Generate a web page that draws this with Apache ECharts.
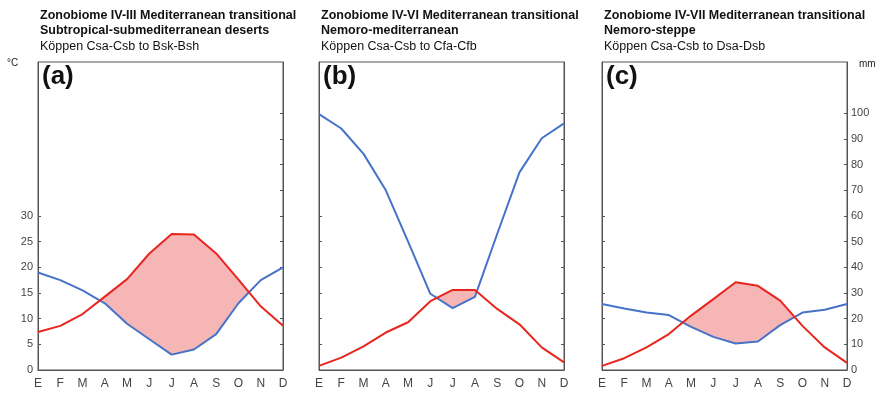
<!DOCTYPE html>
<html><head><meta charset="utf-8">
<script src="https://cdn.jsdelivr.net/npm/echarts@6/dist/echarts.min.js"></script>
<style>html,body{margin:0;padding:0;background:#fff}#c{width:882px;height:395px}</style>
</head><body><div id="c"></div>
<script>
const months = ['E','F','M','A','M','J','J','A','S','O','N','D'];
// temperature in °C
const tempA = [7.4, 8.6, 10.9, 14.3, 17.7, 22.7, 26.5, 26.4, 22.7, 17.6, 12.4, 8.6];
const tempB = [0.8, 2.4, 4.6, 7.3, 9.3, 13.4, 15.6, 15.6, 11.9, 8.9, 4.4, 1.5];
const tempC = [0.8, 2.3, 4.4, 7.0, 10.6, 13.8, 17.1, 16.4, 13.5, 8.6, 4.4, 1.4];
// precipitation in mm
const precA = [38, 35, 31, 26, 18, 12, 6, 8, 14, 26, 35, 40];
const precB = [99.7, 94.1, 84.2, 70, 50, 29.7, 24.1, 28.5, 53, 77, 90.3, 96.1];
const precC = [25.7, 24, 22.4, 21.4, 16.8, 12.9, 10.3, 11.1, 17.5, 22.4, 23.5, 25.7];
const tempTicks = [0, 5, 10, 15, 20, 25, 30];
const precTicks = [0, 10, 20, 30, 40, 50, 60, 70, 80, 90, 100];
const titlesA = ['Zonobiome IV-III Mediterranean transitional', 'Subtropical-submediterranean deserts', 'Köppen Csa-Csb to Bsk-Bsh'];
const titlesB = ['Zonobiome IV-VI Mediterranean transitional', 'Nemoro-mediterranean', 'Köppen Csa-Csb to Cfa-Cfb'];
const titlesC = ['Zonobiome IV-VII Mediterranean transitional', 'Nemoro-steppe', 'Köppen Csa-Csb to Dsa-Dsb'];

const BLUE = '#4673c8', RED = '#e8261f', FILL = '#f6b6b6', AX = '#555', LBL = '#444';
const panels = [
  {left: 38, temp: tempA, prec: precA, titles: titlesA, tag: '(a)', leftLabels: true, rightLabels: false},
  {left: 319, temp: tempB, prec: precB, titles: titlesB, tag: '(b)', leftLabels: false, rightLabels: false},
  {left: 602, temp: tempC, prec: precC, titles: titlesC, tag: '(c)', leftLabels: false, rightLabels: true}
];
const W = 245, TOP = 62, H = 308;
const FONT = '"Liberation Sans", Arial, sans-serif';

function aridPolys(temp, prec) {
  const d = temp.map((t, i) => 2 * t - prec[i]);
  const polys = [];
  let up = null, lo = null;
  for (let i = 0; i < d.length; i++) {
    if (d[i] > 0) {
      if (!up) {
        up = []; lo = [];
        if (i > 0) {
          const f = d[i-1] / (d[i-1] - d[i]);
          const x = i - 1 + f, y = prec[i-1] + f * (prec[i] - prec[i-1]);
          up.push([x, y]); lo.push([x, y]);
        }
      }
      up.push([i, 2 * temp[i]]); lo.push([i, prec[i]]);
      if (i === d.length - 1 || d[i+1] <= 0) {
        if (i < d.length - 1) {
          const f = d[i] / (d[i] - d[i+1]);
          const x = i + f, y = prec[i] + f * (prec[i+1] - prec[i]);
          up.push([x, y]);
        }
        polys.push(up.concat(lo.reverse()));
        up = null; lo = null;
      }
    }
  }
  return polys;
}

const grid = [], xAxis = [], yAxis = [], series = [], graphic = [];
panels.forEach((p, k) => {
  grid.push({left: p.left, top: TOP, width: W, height: H, show: true, borderColor: AX, borderWidth: 1});
  xAxis.push({type: 'value', gridIndex: k, min: 0, max: 11, interval: 1,
    axisLine: {show: true, lineStyle: {color: AX}}, axisTick: {show: false}, splitLine: {show: false},
    axisLabel: {color: LBL, fontSize: 12, margin: 8, fontFamily: 'Liberation Sans', formatter: v => months[v] || ''}});
  yAxis.push({type: 'value', gridIndex: k, position: 'left', min: 0, max: 60,
    axisLine: {show: true, lineStyle: {color: AX}}, splitLine: {show: false},
    axisTick: {show: true, inside: true, length: 3, lineStyle: {color: AX}, customValues: tempTicks},
    axisLabel: {show: p.leftLabels, customValues: tempTicks, color: LBL, fontSize: 11, margin: 5, fontFamily: 'Liberation Sans'}});
  yAxis.push({type: 'value', gridIndex: k, position: 'right', min: 0, max: 120,
    axisLine: {show: true, lineStyle: {color: AX}}, splitLine: {show: false},
    axisTick: {show: true, inside: true, length: 3, lineStyle: {color: AX}, customValues: precTicks},
    axisLabel: {show: p.rightLabels, customValues: precTicks, color: LBL, fontSize: 11, margin: 4, fontFamily: 'Liberation Sans'}});
  const polys = aridPolys(p.temp, p.prec);
  series.push({type: 'custom', xAxisIndex: k, yAxisIndex: 2*k+1, z: 1, silent: true, data: [[0, 0]],
    renderItem: (params, api) => ({type: 'group', children: polys.map(poly => ({type: 'polygon',
      shape: {points: poly.map(pt => api.coord(pt))}, style: {fill: FILL}}))})});
  series.push({type: 'line', xAxisIndex: k, yAxisIndex: 2*k+1, z: 3, symbol: 'none', silent: true,
    lineStyle: {color: BLUE, width: 2}, data: p.prec.map((v, i) => [i, v])});
  series.push({type: 'line', xAxisIndex: k, yAxisIndex: 2*k, z: 4, symbol: 'none', silent: true,
    lineStyle: {color: RED, width: 2}, data: p.temp.map((v, i) => [i, v])});
  p.titles.forEach((t, j) => {
    graphic.push({type: 'text', left: p.left + 2, top: 9 + j * 15.5, style: {text: t, fill: '#111',
      font: (j < 2 ? 'bold 12.5px ' : '12.5px ') + FONT}});
  });
  graphic.push({type: 'text', left: p.left + 4, top: 64, style: {text: p.tag, fill: '#111',
    font: 'bold 26px ' + FONT}});
});
graphic.push({type: 'text', left: 7, top: 58, style: {text: '°C', fill: '#222', font: '10px ' + FONT}});
graphic.push({type: 'text', left: 859, top: 59, style: {text: 'mm', fill: '#222', font: '10px ' + FONT}});

const chart = echarts.init(document.getElementById('c'), null, {renderer: 'canvas'});
chart.setOption({animation: false, backgroundColor: '#fff', grid, xAxis, yAxis, series, graphic});
</script></body></html>
